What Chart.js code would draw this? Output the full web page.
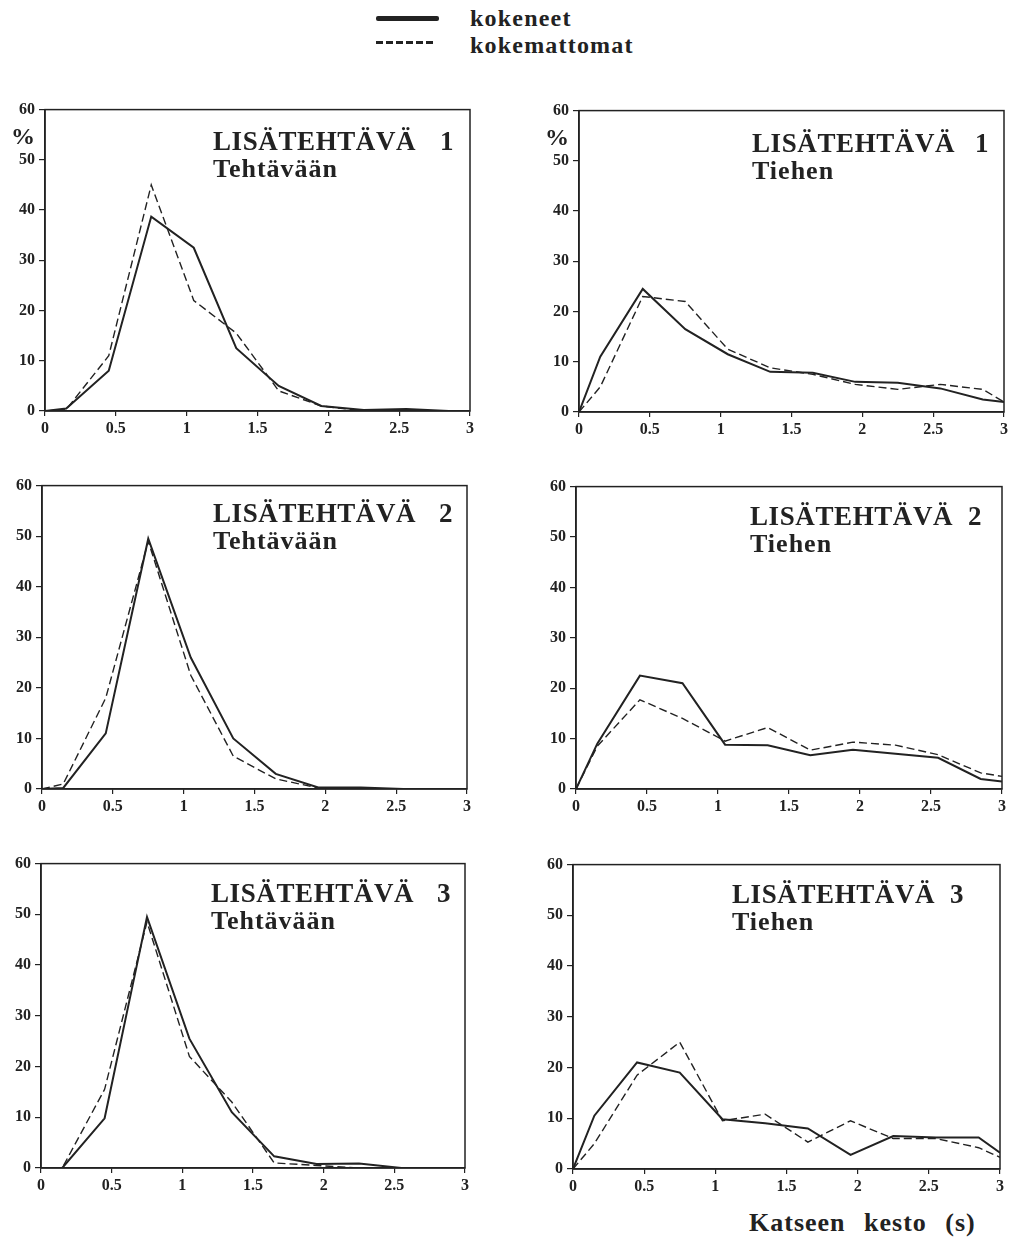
<!DOCTYPE html>
<html>
<head>
<meta charset="utf-8">
<script src="https://cdn.jsdelivr.net/npm/chart.js@4/dist/chart.umd.min.js"></script>
<style>
  body { margin: 0; background: #fff; width: 1009px; height: 1241px; overflow: hidden; position: relative; color: #222; }
  .txt { position: absolute; font-family: 'Liberation Serif', serif; font-weight: bold; white-space: nowrap; line-height: 1; }
  .swatch { position: absolute; }
</style>
</head>
<body>

<div class="swatch" style="left:376px;top:16px;width:63px;height:5px;background:#222;border-radius:2px"></div>
<div class="swatch" style="left:376px;top:41px;width:57px;height:3px;background:repeating-linear-gradient(90deg,#222 0 7px,transparent 7px 10px)"></div>
<div class="txt" style="left:470px;top:6px;font-size:24px;letter-spacing:1.2px">kokeneet</div>
<div class="txt" style="left:470px;top:33px;font-size:24px;letter-spacing:1.2px">kokemattomat</div>
<div class="txt" style="left:749px;top:1210px;font-size:26px;letter-spacing:1px;word-spacing:11px">Katseen kesto (s)</div>

<script>
// glance duration (s) at which each percentage was read
var durations = [0, 0.15, 0.45, 0.75, 1.05, 1.35, 1.65, 1.95, 2.25, 2.55, 2.85, 3];

// LISÄTEHTÄVÄ 1
var task1TaskExp   = [0, 0.5, 8, 38.7, 32.5, 12.5, 5, 1, 0.2, 0.4, 0, 0];
var task1TaskNov   = [0, 0.3, 11, 45, 22, 15.5, 4, 1, 0, 0, 0, 0];
var task1RoadExp   = [0, 11, 24.5, 16.5, 11.5, 8, 7.8, 6, 5.8, 4.7, 2.5, 2];
var task1RoadNov   = [0, 5, 23, 22, 12.5, 8.8, 7.5, 5.5, 4.5, 5.5, 4.5, 2];
// LISÄTEHTÄVÄ 2
var task2TaskExp   = [0, 0.2, 11, 49.5, 26, 10, 3, 0.3, 0.3, 0, 0, 0];
var task2TaskNov   = [0, 1, 18, 49, 22.5, 6.5, 2, 0.2, 0, 0, 0, 0];
var task2RoadExp   = [0, 9, 22.5, 21, 8.8, 8.7, 6.7, 7.8, 7, 6.2, 2, 1.5];
var task2RoadNov   = [0, 8.5, 17.7, 14, 9.5, 12.2, 7.7, 9.3, 8.7, 6.8, 3.2, 2.5];
// LISÄTEHTÄVÄ 3
var task3TaskExp   = [0, 0, 9.8, 49.5, 25.5, 11, 2.3, 0.8, 0.9, 0, 0, 0];
var task3TaskNov   = [0, 0, 15.5, 48.5, 22, 13, 1, 0.5, 0, 0, 0, 0];
var task3RoadExp   = [0, 10.5, 21, 19, 9.8, 9, 8, 2.8, 6.5, 6.2, 6.2, 3.2];
var task3RoadNov   = [0, 5, 18.5, 25, 9.5, 10.8, 5.3, 9.5, 6, 6, 4.2, 2.3];

var seriesNames = ['kokeneet', 'kokemattomat'];
var taskTitles = ['LISÄTEHTÄVÄ', 'LISÄTEHTÄVÄ', 'LISÄTEHTÄVÄ'];
var taskNumbers = ['1', '2', '3'];
var targetNames = ['Tehtävään', 'Tiehen'];

var ink = '#222';
var tickFont = { family: 'Liberation Serif', weight: 'bold', size: 16 };

function points(vals) {
  return vals.map(function (v, i) { return { x: durations[i], y: v }; });
}

var panelText = {
  id: 'panelText',
  afterDraw: function (chart, args, o) {
    var a = chart.chartArea, ctx = chart.ctx;
    ctx.save();
    ctx.strokeStyle = ink;
    ctx.lineWidth = 1.5;
    ctx.strokeRect(a.left, a.top, a.right - a.left, a.bottom - a.top);
    ctx.fillStyle = ink;
    ctx.textBaseline = 'alphabetic';
    ctx.font = 'bold 27px "Liberation Serif"';
    ctx.letterSpacing = '0.6px';
    ctx.fillText(o.title, a.left + o.tx, a.top + o.ty);
    ctx.fillText(o.num, a.left + o.tx + o.numDx, a.top + o.ty);
    ctx.font = 'bold 26px "Liberation Serif"';
    ctx.letterSpacing = '1px';
    ctx.fillText(o.sub, a.left + o.tx, a.top + o.ty + 27);
    if (o.pct) {
      ctx.letterSpacing = '0px';
      ctx.font = 'bold 24px "Liberation Serif"';
      ctx.fillText('%', a.left - 34, a.top + 34);
    }
    ctx.restore();
  }
};

function addPanel(p) {
  var yW = 45, padT = 10, padR = 8, xH = 28;
  var w = p.area[2] - p.area[0] + yW + padR;
  var h = p.area[3] - p.area[1] + padT + xH;
  var cv = document.createElement('canvas');
  cv.width = w; cv.height = h;
  cv.style.cssText = 'position:absolute;left:' + (p.area[0] - yW) + 'px;top:' + (p.area[1] - padT) + 'px;width:' + w + 'px;height:' + h + 'px';
  document.body.appendChild(cv);

  new Chart(cv, {
    type: 'line',
    data: {
      datasets: [{
        label: seriesNames[0],
        data: points(p.exp),
        borderColor: ink,
        borderWidth: 2,
        pointRadius: 0,
        tension: 0
      }, {
        label: seriesNames[1],
        data: points(p.nov),
        borderColor: ink,
        borderWidth: 1.4,
        borderDash: [8, 4],
        pointRadius: 0,
        tension: 0
      }]
    },
    options: {
      responsive: false,
      animation: false,
      layout: { padding: { top: padT, right: padR, left: 0, bottom: 0 } },
      plugins: {
        legend: { display: false },
        tooltip: { enabled: false },
        panelText: p.text
      },
      scales: {
        x: {
          type: 'linear',
          min: 0, max: 3,
          ticks: {
            stepSize: 0.5, color: ink, font: tickFont, padding: 3, maxRotation: 0,
            callback: function (v) { return String(v); }
          },
          grid: { drawOnChartArea: false, tickLength: 5, color: ink, lineWidth: 1.2 },
          border: { color: ink, width: 1.5 },
          afterFit: function (s) { s.height = xH; }
        },
        y: {
          min: 0, max: 60,
          ticks: { stepSize: 10, color: ink, font: tickFont, padding: 4 },
          grid: { drawOnChartArea: false, tickLength: 6, color: ink, lineWidth: 1.2 },
          border: { color: ink, width: 1.5 },
          afterFit: function (s) { s.width = yW; }
        }
      }
    },
    plugins: [panelText]
  });
}

var panels = [
  { area: [45, 106, 470, 411], exp: task1TaskExp, nov: task1TaskNov,
    text: { title: taskTitles[0], num: taskNumbers[0], sub: targetNames[0], pct: true, tx: 168, ty: 40, numDx: 227 } },
  { area: [579, 107, 1004, 412], exp: task1RoadExp, nov: task1RoadNov,
    text: { title: taskTitles[0], num: taskNumbers[0], sub: targetNames[1], pct: true, tx: 173, ty: 41, numDx: 223 } },
  { area: [42, 482, 467, 789], exp: task2TaskExp, nov: task2TaskNov,
    text: { title: taskTitles[1], num: taskNumbers[1], sub: targetNames[0], pct: false, tx: 171, ty: 36, numDx: 226 } },
  { area: [576, 483, 1002, 789], exp: task2RoadExp, nov: task2RoadNov,
    text: { title: taskTitles[1], num: taskNumbers[1], sub: targetNames[1], pct: false, tx: 174, ty: 38, numDx: 218 } },
  { area: [41, 860, 465, 1168], exp: task3TaskExp, nov: task3TaskNov,
    text: { title: taskTitles[2], num: taskNumbers[2], sub: targetNames[0], pct: false, tx: 170, ty: 38, numDx: 226 } },
  { area: [573, 861, 1000, 1169], exp: task3RoadExp, nov: task3RoadNov,
    text: { title: taskTitles[2], num: taskNumbers[2], sub: targetNames[1], pct: false, tx: 159, ty: 38, numDx: 218 } }
];

panels.forEach(addPanel);
</script>
</body>
</html>
